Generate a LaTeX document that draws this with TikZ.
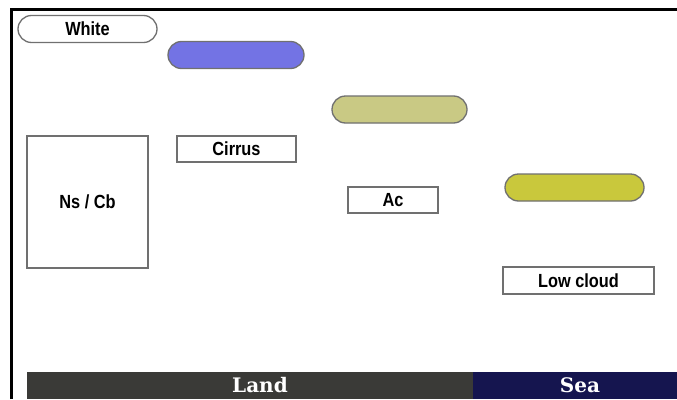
\documentclass[tikz,border=0pt]{standalone}
\usepackage{fontspec}
\newfontfamily\labelfont[FakeStretch=0.86]{Liberation Sans}
\newfontfamily\slabfont{DejaVu Serif}
\definecolor{cirrusblue}{HTML}{7373E4}
\definecolor{acolive}{HTML}{C9C984}
\definecolor{lowyellow}{HTML}{C9C83C}
\definecolor{landgray}{HTML}{3A3A37}
\definecolor{seanavy}{HTML}{15154F}
\definecolor{edgegray}{HTML}{707070}

\begin{document}
\begin{tikzpicture}[x=1pt,y=-1pt,
    pill/.style={draw=edgegray,line width=1.3pt,rounded corners=13.5pt,
      minimum height=27pt,inner sep=0pt,font=\labelfont\bfseries\fontsize{19}{22}\selectfont},
    cloudbox/.style={draw=edgegray,line width=1.1pt,fill=white,inner sep=0pt,
      font=\labelfont\bfseries\fontsize{19}{22}\selectfont},
    ground/.style={inner sep=0pt,text=white,font=\slabfont\bfseries\fontsize{20}{22}\selectfont}]
    \useasboundingbox[fill=white] (0,0) rectangle (677,399);
    % frame
    \draw[line width=3pt] (11.5,399) -- (11.5,9) -- (677,9);
    % cloud bands
    \node[pill,fill=white,minimum width=139pt] (white) at (87.5,29) {White};
    \node[pill,fill=cirrusblue,minimum width=136pt] (cirrusband) at (236,55) {};
    \node[pill,fill=acolive,minimum width=135pt] (acband) at (399.5,109.5) {};
    \node[pill,fill=lowyellow,minimum width=139pt] (lowband) at (574.5,187.5) {};
    % labels
    \node[cloudbox,minimum width=121pt,minimum height=132pt] (nscb) at (87.5,202) {Ns / Cb};
    \node[cloudbox,minimum width=119pt,minimum height=26pt] (cirrus) at (236.5,149) {Cirrus};
    \node[cloudbox,minimum width=90pt,minimum height=26pt] (ac) at (393,200) {Ac};
    \node[cloudbox,minimum width=151pt,minimum height=27pt] (lowcloud) at (578.5,280.5) {Low cloud};
    % land and sea
    \fill[landgray] (27,372) rectangle (473,399);
    \fill[seanavy] (473,372) rectangle (677,399);
    \node[ground] (land) at (260,385.5) {Land};
    \node[ground] (sea) at (580,385.5) {Sea};
\end{tikzpicture}
\end{document}
